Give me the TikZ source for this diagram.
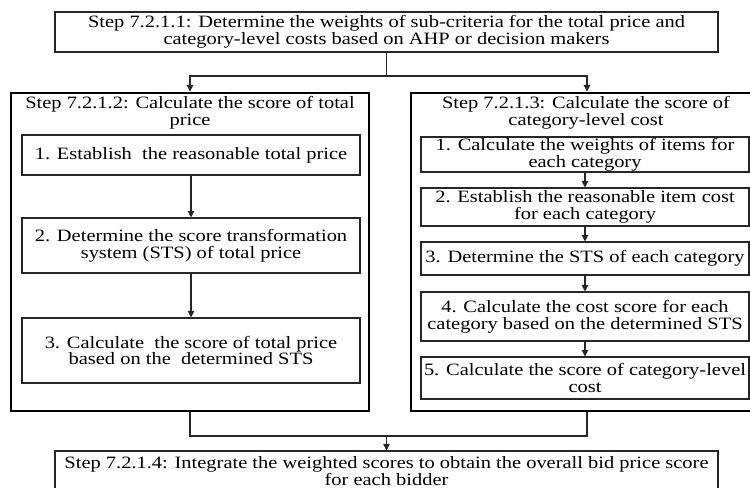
\documentclass[tikz,border=0pt]{standalone}
\usepackage{fontspec}
\setmainfont{Liberation Serif}[FakeStretch=1.18]
\usetikzlibrary{arrows.meta}
\begin{document}
\begin{tikzpicture}[x=0.75pt,y=-0.75pt,
  every node/.style={font=\fontsize{13}{12.5}\selectfont, align=center, inner sep=0pt},
  wh/.style 2 args={minimum width=#1*0.75pt, minimum height=#2*0.75pt},
  thinbox/.style={draw=black!85, line width=0.8pt},
  thickbox/.style={draw=black, line width=2.2pt},
  conn/.style={draw=black!85, line width=0.8pt},
  arr/.style={conn, -{Triangle[length=5pt,width=5pt]}}]
\clip (0,0) rectangle (750,488);
\fill[white] (0,0) rectangle (750,488);

\node[thinbox, wh={663}{40}] (top) at (386.5,32)
  {Step 7.2.1.1: Determine the weights of sub-criteria for the total price and\\category-level costs based on AHP or decision makers};

\node[thickbox, wh={358}{318}] (L) at (190,252) {};
\node[thickbox, wh={352}{318}] (R) at (587,252) {};
\node (hL) at (190,113) {Step 7.2.1.2: Calculate the score of total\\price};
\node (hR) at (586,113) {Step 7.2.1.3: Calculate the score of\\category-level cost};

\node[thinbox, wh={338}{40}] (l1) at (191,155) {1. Establish\ \ the reasonable total price};
\node[thinbox, wh={338}{55}] (l2) at (191,245.5) {2. Determine the score transformation\\system (STS) of total price};
\node[thinbox, wh={338}{65}] (l3) at (191,350.5) {3. Calculate\ \ the score of total price\\based on the\ \ determined STS};

\node[thinbox, wh={328}{35}] (r1) at (585,154.5) {1. Calculate the weights of items for\\each category};
\node[thinbox, wh={328}{38}] (r2) at (585,207) {2. Establish the reasonable item cost\\for each category};
\node[thinbox, wh={328}{33}] (r3) at (585,258.5) {3. Determine the STS of each category};
\node[thinbox, wh={328}{49}] (r4) at (585,316.5) {4. Calculate the cost score for each\\category based on the determined STS};
\node[thinbox, wh={328}{42}] (r5) at (585,378) {5. Calculate the score of category-level\\cost};

\node[thinbox, wh={663}{40}, font=\fontsize{13}{10.5}\selectfont] (bot) at (386.5,471)
  {Step 7.2.1.4: Integrate the weighted scores to obtain the overall bid price score\\for each bidder};

\draw[arr] (l1) -- (l2);
\draw[arr] (l2) -- (l3);
\draw[arr] (r1) -- (r2);
\draw[arr] (r2) -- (r3);
\draw[arr] (r3) -- (r4);
\draw[arr] (r4) -- (r5);

\coordinate (j1) at (386.5,76);
\draw[conn] (top.south) -- (j1);
\draw[arr] (j1) -| (L.north);
\draw[arr] (j1) -| (R.north);

\coordinate (j2) at (386.5,436);
\draw[conn] (L.south) |- (j2) -| (R.south);
\draw[arr] (j2) -- (bot.north);
\end{tikzpicture}
\end{document}
